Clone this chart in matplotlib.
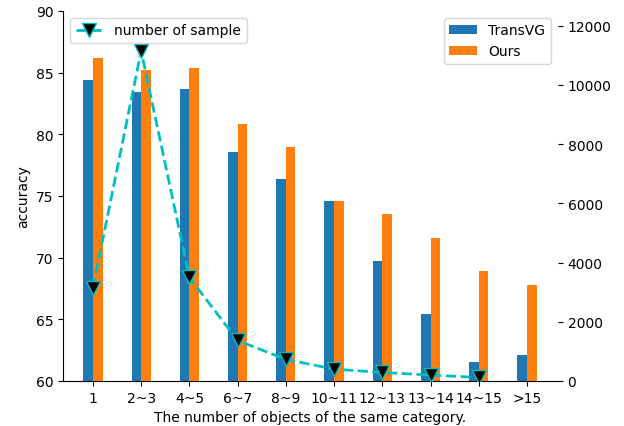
import matplotlib
matplotlib.use("Agg")
import matplotlib.pyplot as plt
import numpy as np

categories = ["1", "2~3", "4~5", "6~7", "8~9", "10~11", "12~13", "13~14", "14~15", ">15"]
transvg = [84.4, 83.4, 83.7, 78.6, 76.4, 74.6, 69.75, 65.45, 61.55, 62.1]
ours = [86.15, 85.2, 85.35, 80.8, 79.0, 74.6, 73.55, 71.6, 68.9, 67.75]
samples = [3150, 11150, 3500, 1370, 730, 400, 290, 200, 120]

fig = plt.figure(figsize=(6.24, 4.27), dpi=100)
ax = fig.add_axes([0.101, 0.1054, 0.793, 0.8666])
x = np.arange(len(categories))
w = 0.2
ax.bar(x - w / 2, transvg, w, color="#1f77b4", label="TransVG")
ax.bar(x + w / 2, ours, w, color="#ff7f0e", label="Ours")
ax.set_ylim(60, 90)
ax.set_xlim(-0.62, 9.64)
ax.set_xticks(x)
ax.set_xticklabels(categories)
ax.set_ylabel("accuracy")
ax.set_xlabel("The number of objects of the same category.")
ax.spines["top"].set_visible(False)
ax.spines["right"].set_visible(False)
ax.legend(loc="upper right")

ax2 = ax.twinx()
ax2.plot(x[:len(samples)], samples, linestyle="--", color="c", linewidth=2,
         marker="v", markersize=10, markerfacecolor="black", markeredgecolor="c",
         label="number of sample")
ax2.set_ylim(0, 12500)
ax2.set_yticks([0, 2000, 4000, 6000, 8000, 10000, 12000])
for s in ["top", "right", "left", "bottom"]:
    ax2.spines[s].set_visible(False)
ax2.legend(loc="upper left")

fig.savefig("out.png", dpi=100)
